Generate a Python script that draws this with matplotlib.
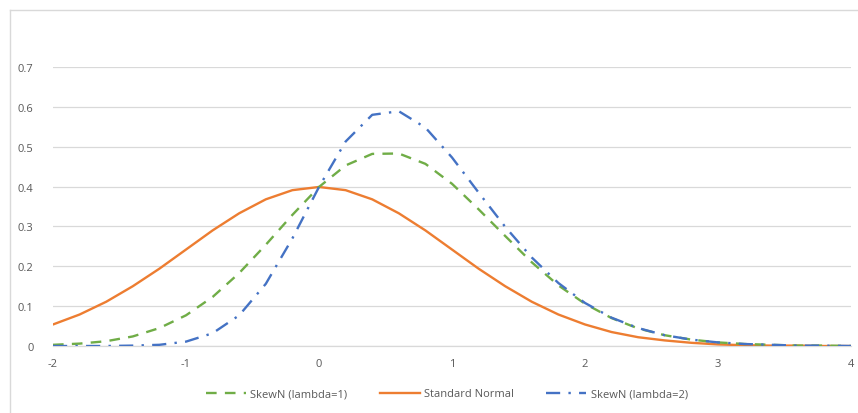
import matplotlib
matplotlib.use("Agg")
import matplotlib.pyplot as plt
from matplotlib.lines import Line2D

# values
x = [-2.0, -1.8, -1.6, -1.4, -1.2, -1.0, -0.8, -0.6, -0.4, -0.2, 0.0,
     0.2, 0.4, 0.6, 0.8, 1.0, 1.2, 1.4, 1.6, 1.8, 2.0,
     2.2, 2.4, 2.6, 2.8, 3.0, 3.2, 3.4, 3.6, 3.8, 4.0]

skew1 = [0.003, 0.006, 0.012, 0.024, 0.045, 0.077, 0.123, 0.183, 0.254, 0.329, 0.399,
         0.453, 0.482, 0.483, 0.457, 0.407, 0.343, 0.276, 0.210, 0.152, 0.106,
         0.070, 0.044, 0.027, 0.016, 0.009, 0.005, 0.003, 0.001, 0.001, 0.000]

normal = [0.054, 0.079, 0.111, 0.150, 0.194, 0.242, 0.290, 0.333, 0.368, 0.391, 0.399,
          0.391, 0.368, 0.333, 0.290, 0.242, 0.194, 0.150, 0.111, 0.079, 0.054,
          0.035, 0.022, 0.014, 0.008, 0.004, 0.002, 0.001, 0.001, 0.000, 0.000]

skew2 = [0.000, 0.000, 0.000, 0.001, 0.003, 0.011, 0.032, 0.077, 0.156, 0.270, 0.399,
         0.513, 0.580, 0.589, 0.548, 0.473, 0.385, 0.299, 0.222, 0.158, 0.108,
         0.071, 0.045, 0.027, 0.016, 0.009, 0.005, 0.003, 0.001, 0.001, 0.000]

labels = ["SkewN (lambda=1)", "Standard Normal", "SkewN (lambda=2)"]

GREEN = "#70AD47"
ORANGE = "#ED7D31"
BLUE = "#4472C4"
TEXT = "#595959"
GRID = "#D9D9D9"

plt.rcParams["font.family"] = ["Open Sans", "DejaVu Sans"]
plt.rcParams["axes.unicode_minus"] = False

fig = plt.figure(figsize=(8.58, 4.14), dpi=100)
ax = fig.add_axes([53 / 858, 67 / 414, 798 / 858, 279 / 414])

ax.plot(x, normal, color=ORANGE, linewidth=1.7, solid_capstyle="round", zorder=3)
ax.plot(x, skew1, color=GREEN, linewidth=1.7, dashes=(4.5, 3.5), zorder=4)
ax.plot(x, skew2, color=BLUE, linewidth=1.7, dashes=(6, 3.5, 1, 3.5), zorder=5)

ax.set_xlim(-2, 4)
ax.set_ylim(0, 0.7)
ax.set_xticks(range(-2, 5))
ax.set_yticks([0, 0.1, 0.2, 0.3, 0.4, 0.5, 0.6, 0.7])
ax.set_yticklabels(["0", "0.1", "0.2", "0.3", "0.4", "0.5", "0.6", "0.7"])

ax.grid(axis="y", color=GRID, linewidth=0.9)
ax.set_axisbelow(True)
for side in ["top", "right", "left"]:
    ax.spines[side].set_visible(False)
ax.spines["bottom"].set_color(GRID)
ax.spines["bottom"].set_linewidth(0.9)
ax.tick_params(length=0, colors=TEXT, labelsize=8)
ax.tick_params(axis="y", pad=14)
ax.tick_params(axis="x", pad=9)

handles = [
    Line2D([], [], color=GREEN, linewidth=1.7, dashes=(4.5, 3.5)),
    Line2D([], [], color=ORANGE, linewidth=1.7),
    Line2D([], [], color=BLUE, linewidth=1.7, dashes=(6, 3.5, 1, 3.5)),
]
fig.legend(handles, labels, loc="center", bbox_to_anchor=(447 / 858, 19 / 414),
           ncol=3, frameon=False, fontsize=8, labelcolor=TEXT,
           handlelength=3.6, columnspacing=2.9, handletextpad=0.4)

# chart frame, left and top edges only are visible
fig.add_artist(Line2D([10 / 858, 10 / 858], [0, 1 - 11 / 414],
                      transform=fig.transFigure, color=GRID, linewidth=1))
fig.add_artist(Line2D([10 / 858, 1], [1 - 11 / 414, 1 - 11 / 414],
                      transform=fig.transFigure, color=GRID, linewidth=1))

fig.savefig("out.png", dpi=100)
